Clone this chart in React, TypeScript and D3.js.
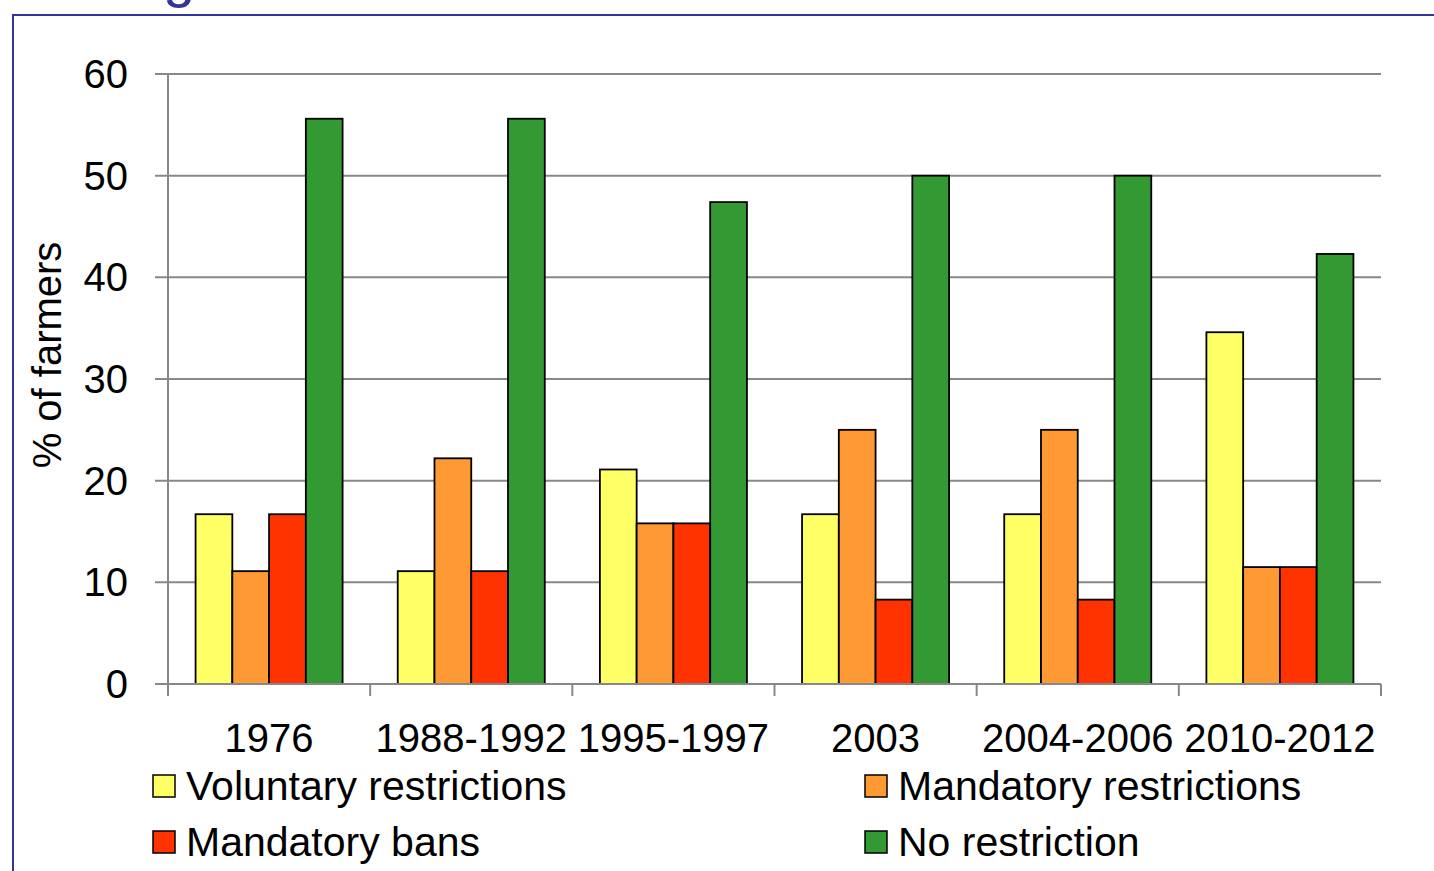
import React, { useEffect, useRef } from 'react';
import * as d3 from 'd3';

const categories = ['1976', '1988-1992', '1995-1997', '2003', '2004-2006', '2010-2012'];
const seriesNames = ['Voluntary restrictions', 'Mandatory restrictions', 'Mandatory bans', 'No restriction'];
const voluntary = [16.7, 11.1, 21.1, 16.7, 16.7, 34.6];
const mandatory = [11.1, 22.2, 15.8, 25.0, 25.0, 11.5];
const bans = [16.7, 11.1, 15.8, 8.3, 8.3, 11.5];
const noRestriction = [55.6, 55.6, 47.4, 50.0, 50.0, 42.3];
const yTicks = [0, 10, 20, 30, 40, 50, 60];
const colors = ['#FFFF66', '#FF9933', '#FF3300', '#339933'];

const W = 1434;
const H = 871;
const FONT = '"Liberation Sans", Helvetica, Arial, sans-serif';

const App: React.FC = () => {
  const svgRef = useRef<SVGSVGElement>(null);

  useEffect(() => {
    if (!svgRef.current) return;
    const svg = d3.select(svgRef.current);
    svg.selectAll('*').remove();

    const series = [voluntary, mandatory, bans, noRestriction];
    const left = 168, right = 1381, top = 74, bottom = 684;

    const x = d3.scaleBand().domain(categories).range([left, right]).paddingInner(0).paddingOuter(0);
    const inner = d3.scaleBand().domain(seriesNames).range([0, x.bandwidth()]).paddingOuter(0.75).paddingInner(0);
    const y = d3.scaleLinear().domain([0, 60]).range([bottom, top]);

    // frame (title above is cut off, only the tail of a "g" shows)
    svg.append('text').attr('x', 163).attr('y', -4).attr('fill', '#333399')
      .attr('font-family', FONT).attr('font-size', 58).text('g');
    svg.append('path').attr('d', `M${W},15 H13 V${H}`).attr('fill', 'none')
      .attr('stroke', '#333399').attr('stroke-width', 2);

    // gridlines
    svg.append('g').selectAll('line').data(yTicks.filter(t => t > 0)).enter().append('line')
      .attr('x1', left - 13).attr('x2', right).attr('y1', d => y(d)).attr('y2', d => y(d))
      .attr('stroke', '#888').attr('stroke-width', 2);

    // y labels
    svg.append('g').selectAll('text').data(yTicks).enter().append('text')
      .attr('x', 128).attr('y', d => y(d)).attr('dy', '0.35em').attr('text-anchor', 'end')
      .attr('font-family', FONT).attr('font-size', 40).attr('fill', '#000').text(d => d);

    // y axis
    svg.append('line').attr('x1', left).attr('x2', left).attr('y1', top).attr('y2', bottom + 12)
      .attr('stroke', '#888').attr('stroke-width', 2);

    // bars
    categories.forEach((c, ci) => {
      series.forEach((s, si) => {
        svg.append('rect')
          .attr('x', (x(c) ?? 0) + (inner(seriesNames[si]) ?? 0))
          .attr('y', y(s[ci]))
          .attr('width', inner.bandwidth())
          .attr('height', y(0) - y(s[ci]))
          .attr('fill', colors[si]).attr('stroke', '#000').attr('stroke-width', 1.8);
      });
    });

    // x axis
    svg.append('line').attr('x1', left - 13).attr('x2', right).attr('y1', bottom).attr('y2', bottom)
      .attr('stroke', '#888').attr('stroke-width', 2);
    const bounds = categories.map(c => x(c) ?? 0).concat([right]);
    svg.append('g').selectAll('line').data(bounds).enter().append('line')
      .attr('x1', d => d).attr('x2', d => d).attr('y1', bottom).attr('y2', bottom + 12)
      .attr('stroke', '#888').attr('stroke-width', 2);
    svg.append('g').selectAll('text').data(categories).enter().append('text')
      .attr('x', d => (x(d) ?? 0) + x.bandwidth() / 2).attr('y', 752).attr('text-anchor', 'middle')
      .attr('font-family', FONT).attr('font-size', 40).attr('fill', '#000').text(d => d);

    // y title
    svg.append('text').attr('transform', 'translate(61,355) rotate(-90)').attr('text-anchor', 'middle')
      .attr('font-family', FONT).attr('font-size', 40).attr('fill', '#000').text('% of farmers');

    // legend
    const legendPos = [[153, 786], [865, 786], [153, 842], [865, 842]];
    seriesNames.forEach((name, i) => {
      const [lx, ly] = legendPos[i];
      svg.append('rect').attr('x', lx).attr('y', ly - 11).attr('width', 22).attr('height', 22)
        .attr('fill', colors[i]).attr('stroke', '#000').attr('stroke-width', 1.5);
      svg.append('text').attr('x', lx + 33).attr('y', ly).attr('dy', '0.35em')
        .attr('font-family', FONT).attr('font-size', 41).attr('fill', '#000').text(name);
    });
  }, []);

  return (
    <svg ref={svgRef} width={W} height={H}
      style={{ position: 'absolute', left: 0, top: 0, background: '#fff', display: 'block' }} />
  );
};

export default App;
